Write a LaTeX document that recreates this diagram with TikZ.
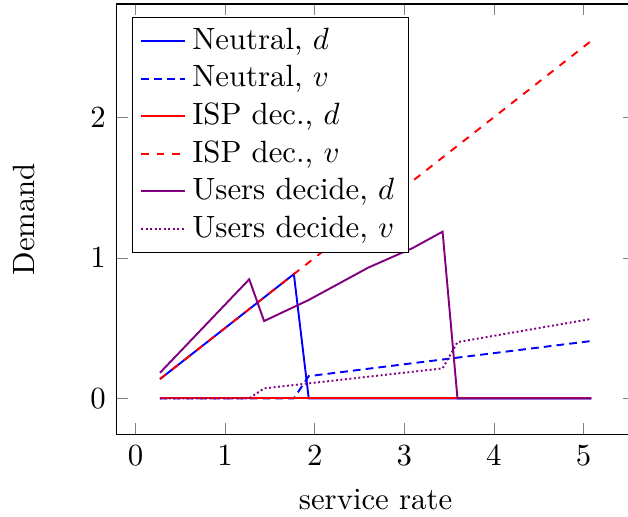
\documentclass[tikz,border=0pt]{standalone}
\usepackage{pgfplots}
\pgfplotsset{compat=1.18}

\begin{document}
\begin{tikzpicture}
  \useasboundingbox (-45.52pt,-31.86pt) rectangle (199.4pt,169.38pt);
  \begin{axis}[name=demand, at={(0pt,0pt)}, anchor=south west,
    scale only axis, width=201.9pt, height=167.82pt,
    xmin=-0.21, xmax=5.568, ymin=-0.256, ymax=2.806,
    xlabel={service rate}, ylabel={Demand},
    every tick label/.append style={scale=1.2},
    legend pos=north west, legend cell align=left,
    legend style={nodes={scale=1.2, inner ysep=1.85pt}},
    every axis x label/.style={at={(axis description cs:0.5,-0.174)}, anchor=base, scale=1.2},
    every axis y label/.style={at={(axis description cs:-0.179,0.5)}, rotate=90, anchor=center, scale=1.2},
    every axis plot/.append style={line width=0.75pt}]
    % neutral
    \addplot[blue] coordinates {(0.273,0.137) (1.767,0.884) (1.933,0) (5.087,0)};
    \addlegendentry{Neutral, $d$}
    \addplot[blue, densely dashed] coordinates {(0.273,0) (1.767,0) (1.933,0.158) (5.087,0.408)};
    \addlegendentry{Neutral, $v$}
    % ISP decides
    \addplot[red] coordinates {(0.273,0) (5.087,0)};
    \addlegendentry{ISP dec., $d$}
    \addplot[red, dashed] coordinates {(0.273,0.137) (5.087,2.544)};
    \addlegendentry{ISP dec., $v$}
    % users decide
    \addplot[violet] coordinates {(0.273,0.182) (1.269,0.847) (1.435,0.55) (1.933,0.7)
      (2.597,0.93) (3.095,1.07) (3.427,1.186) (3.593,0) (5.087,0)};
    \addlegendentry{Users decide, $d$}
    \addplot[violet, densely dotted] coordinates {(0.273,0) (1.269,0) (1.435,0.071) (3.427,0.213)
      (3.593,0.4) (5.087,0.565)};
    \addlegendentry{Users decide, $v$}
  \end{axis}
\end{tikzpicture}
\end{document}
